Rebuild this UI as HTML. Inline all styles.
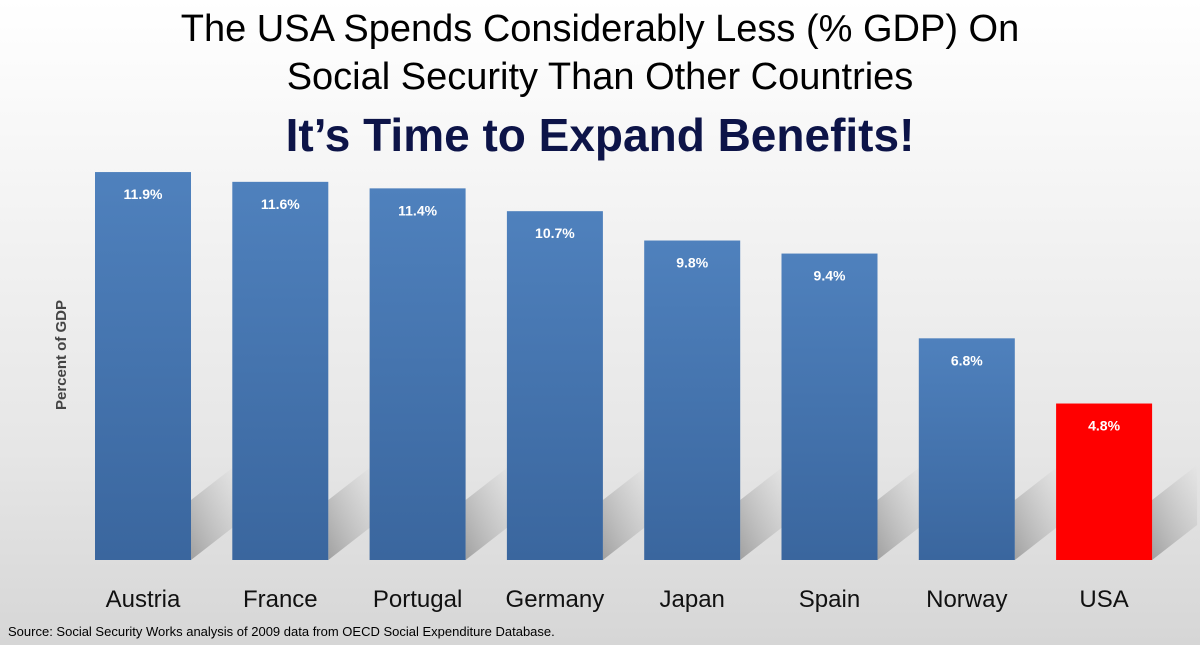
<!DOCTYPE html>
<html><head><meta charset="utf-8"><style>
body{margin:0;width:1200px;height:645px;overflow:hidden;font-family:"Liberation Sans",sans-serif;background:linear-gradient(#ffffff 0px,#f6f6f6 160px,#e6e6e6 450px,#d6d6d6 645px);}
.t{position:absolute;left:0;width:1200px;text-align:center;color:#000;}
</style></head><body>
<div class="t" style="top:8px;font-size:38px;">The USA Spends Considerably Less (% GDP) On</div>
<div class="t" style="top:56px;font-size:38px;">Social Security Than Other Countries</div>
<div class="t" style="top:108px;font-size:46px;font-weight:bold;color:#0d1448;">It’s Time to Expand Benefits!</div>
<svg id="c" width="1200" height="645" style="position:absolute;left:0;top:0">
<defs><linearGradient id="bg" x1="0" y1="0" x2="0" y2="1"><stop offset="0" stop-color="#4f81bd"/><stop offset="1" stop-color="#3a669e"/></linearGradient>
<linearGradient id="sh" x1="0" y1="1" x2="1" y2="0"><stop offset="0" stop-color="#9a9a9a" stop-opacity="0.9"/><stop offset="1" stop-color="#bbb" stop-opacity="0"/></linearGradient></defs>
<text x="66" y="355" transform="rotate(-90 66 355)" text-anchor="middle" font-size="15" font-weight="bold" fill="#444">Percent of GDP</text>
<text x="8" y="636" font-size="13" fill="#000">Source: Social Security Works analysis of 2009 data from OECD Social Expenditure Database.</text>
</svg>
<script>
const categories=["Austria","France","Portugal","Germany","Japan","Spain","Norway","USA"];
const values=[11.9,11.6,11.4,10.7,9.8,9.4,6.8,4.8];
const labels=["11.9%","11.6%","11.4%","10.7%","9.8%","9.4%","6.8%","4.8%"];
const svg=document.getElementById('c'),NS="http://www.w3.org/2000/svg";
const base=560,k=32.6,x0=95,pitch=137.3,w=96;
const y=v=>base-v*k, x=i=>x0+i*pitch;
function mk(t,a){const e=document.createElementNS(NS,t);for(const n in a)e.setAttribute(n,a[n]);svg.insertBefore(e,svg.lastElementChild);return e;}
categories.forEach((c,i)=>{
  const xl=x(i),xr=xl+w;
  const s=mk('polygon',{points:`${xr},${base} ${xr},${base-60} ${xr+45},${base-95} ${xr+45},${base-35}`,fill:'url(#sh)'});
  
  
  const r=mk('rect',{x:xl,y:y(values[i]),width:w,height:values[i]*k,fill:c==="USA"?"#ff0000":"url(#bg)"});
  
  
  const t=mk('text',{x:xl+w/2,y:y(values[i])+27,'text-anchor':'middle','font-size':14,'font-weight':'bold',fill:'#fff'});
  t.textContent=labels[i];
  
  
  const l=mk('text',{x:xl+w/2,y:607,'text-anchor':'middle','font-size':24,fill:'#111'});
  l.textContent=c;
  
  
});
</script>
</body></html>
